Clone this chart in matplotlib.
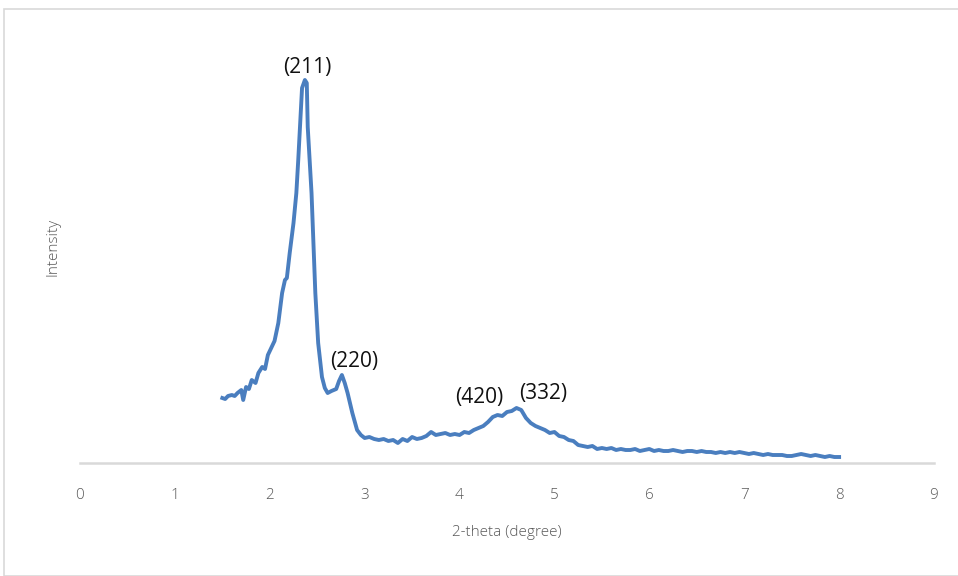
import matplotlib
matplotlib.use("Agg")
import matplotlib.pyplot as plt
from matplotlib.patches import Rectangle

two_theta = [1.50,1.53,1.56,1.60,1.63,1.66,1.70,1.72,1.75,1.78,1.81,1.85,1.88,1.92,1.95,1.98,2.02,2.05,2.09,2.13,2.16,2.18,2.21,2.25,2.28,2.30,2.32,2.34,2.37,2.39,2.40,2.44,2.48,2.51,2.55,2.58,2.61,2.65,2.70,2.73,2.76,2.79,2.82,2.87,2.92,2.96,
             3.00,3.05,3.10,3.15,3.20,3.25,3.30,3.35,3.40,3.45,3.50,3.55,3.60,3.65,3.70,3.75,3.80,3.85,3.90,3.95,
             4.00,4.05,4.10,4.15,4.20,4.25,4.30,4.35,4.40,4.45,4.50,4.55,4.60,4.65,4.70,4.75,4.80,4.85,4.90,4.95,
             5.00,5.05,5.10,5.15,5.20,5.25,5.30,5.35,5.40,5.45,5.50,5.55,5.60,5.65,5.70,5.75,5.80,5.85,5.90,5.95,
             6.00,6.05,6.10,6.15,6.20,6.25,6.30,6.35,6.40,6.45,6.50,6.55,6.60,6.65,6.70,6.75,6.80,6.85,6.90,6.95,
             7.00,7.05,7.10,7.15,7.20,7.25,7.30,7.35,7.40,7.45,7.50,7.55,7.60,7.65,7.70,7.75,7.80,7.85,7.90,7.95,8.00]
intensity = [65,64,67,68,67,70,73,63,76,74,83,80,90,96,94,108,116,122,140,170,183,185,210,240,270,303,340,375,383,380,336,270,170,120,86,75,70,72,74,82,88,80,70,50,33,28,
             25,26,24,23,24,22,23,20,24,22,26,24,25,27,31,28,29,30,28,29,
             28,31,30,33,35,37,41,46,48,47,51,52,55,53,45,40,37,35,33,30,
             31,27,26,23,22,18,17,16,17,14,15,14,15,13,14,13,13,14,12,13,
             14,12,13,12,12,13,12,11,12,12,11,12,11,11,10,11,10,11,10,11,
             10,9,10,9,8,9,8,8,8,7,7,8,9,8,7,8,7,6,7,6,6]

peak_labels = ["(211)", "(220)", "(420)", "(332)"]
peak_x = [2.40, 2.89, 4.21, 4.88]
peak_y = [395, 102, 66, 69]
x_ticks = [0, 1, 2, 3, 4, 5, 6, 7, 8, 9]

plt.rcParams['font.family'] = ['Open Sans', 'DejaVu Sans']

W, H = 958, 576
fig = plt.figure(figsize=(W/100, H/100), dpi=100)
fig.patches.append(Rectangle((4/W, 0), 1.0, (H-9)/H, transform=fig.transFigure,
                             fill=False, edgecolor='#D9D9D9', linewidth=1.2))

ax = fig.add_axes([80/W, (H-463)/H, (934-80)/W, (463-30)/H])
ax.plot(two_theta, intensity, color='#4A7EBF', linewidth=2.8, solid_joinstyle='round')
ax.set_xlim(0, 9)
ax.set_ylim(0, 433)
ax.set_xticks(x_ticks)
ax.set_yticks([])
for s in ['top', 'right', 'left']:
    ax.spines[s].set_visible(False)
ax.spines['bottom'].set_color('#D9D9D9')
ax.spines['bottom'].set_linewidth(1.8)
ax.tick_params(axis='x', length=0, pad=18, labelsize=11, labelcolor='#595959')
for t in ax.get_xticklabels():
    t.set_fontweight('light')

ax.set_xlabel("2-theta (degree)", fontsize=11, color='#595959', labelpad=16, fontweight='light')
ax.set_ylabel("Intensity", fontsize=11, color='#595959', labelpad=14, fontweight='light')

for lab, px, py in zip(peak_labels, peak_x, peak_y):
    ax.text(px, py, lab, ha='center', va='center', fontsize=15, color='#111111')

fig.savefig("out.png", dpi=100)
